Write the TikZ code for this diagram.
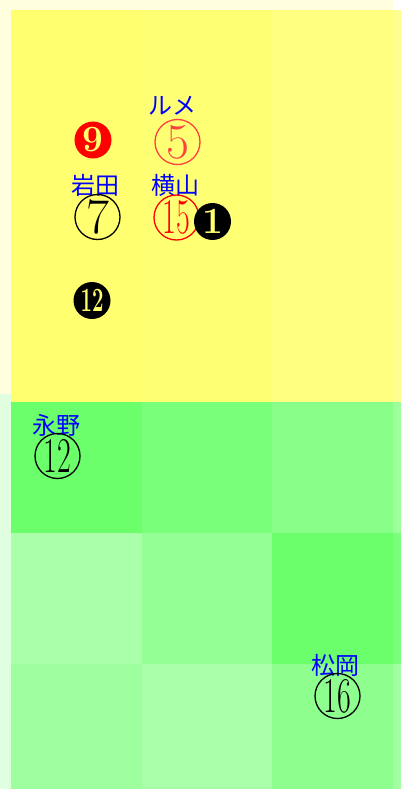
\documentclass[tikz,border=0pt]{standalone}
\usepackage{fontspec}
\usepackage{graphicx}
\newfontfamily\jpfont{Noto Sans CJK JP}
\definecolor{bgY}{HTML}{FFFFE0}
\definecolor{bgG}{HTML}{E0FFE0}
\definecolor{cellY}{HTML}{FFFF70}
\definecolor{lightred}{HTML}{FF4040}
\definecolor{y1}{HTML}{FFFF70}
\definecolor{y2}{HTML}{FFFF74}
\definecolor{y3}{HTML}{FFFF80}
\definecolor{y3s}{HTML}{FFFF91}
\definecolor{g41}{HTML}{6BFF6B}
\definecolor{g42}{HTML}{7AFF7A}
\definecolor{g43}{HTML}{88FF88}
\definecolor{g51}{HTML}{AAFFAA}
\definecolor{g52}{HTML}{94FF94}
\definecolor{g53}{HTML}{6BFF6B}
\definecolor{g61}{HTML}{9EFF9E}
\definecolor{g62}{HTML}{AAFFAA}
\definecolor{g63}{HTML}{8EFF8E}
\definecolor{g43s}{HTML}{9CFF9C}
\definecolor{g53s}{HTML}{7AFF7A}
\definecolor{g63s}{HTML}{A1FFA1}
\tikzset{
  lbl/.style={text=blue, font=\jpfont\fontsize{24}{24}\selectfont, inner sep=0pt},
  circnum/.style={circle, draw, line width=1.3pt, minimum size=45pt, inner sep=0pt, font=\fontsize{50}{50}\selectfont},
  negnum/.style={circle, fill, minimum size=37pt, inner sep=0pt, text=cellY, font=\bfseries\fontsize{37}{37}\selectfont}
}
\begin{document}
\begin{tikzpicture}[x=1pt,y=-1pt]
\useasboundingbox (0,0) rectangle (401,789);
\clip (0,0) rectangle (401,789);
% backgrounds
\fill[bgY] (0,0) rectangle (393,394);
\fill[bgG] (0,394) rectangle (393,789);
% yellow cells
\fill[y1] (11,10) rectangle (141.5,402);
\fill[y2] (141.5,10) rectangle (272,402);
\fill[y3] (272,10) rectangle (393,402);
\fill[y3s] (393,10) rectangle (401,402);
% green cells
\fill[g41] (11,402) rectangle (141.5,532.7);
\fill[g42] (141.5,402) rectangle (272,532.7);
\fill[g43] (272,402) rectangle (393,532.7);
\fill[g43s] (393,402) rectangle (401,532.7);
\fill[g51] (11,532.7) rectangle (141.5,663.5);
\fill[g52] (141.5,532.7) rectangle (272,663.5);
\fill[g53] (272,532.7) rectangle (393,663.5);
\fill[g53s] (393,532.7) rectangle (401,663.5);
\fill[g61] (11,663.5) rectangle (141.5,794);
\fill[g62] (141.5,663.5) rectangle (272,794);
\fill[g63] (272,663.5) rectangle (393,794);
\fill[g63s] (393,663.5) rectangle (401,794);
% labels
\node[lbl] (lume) at (172,106) {ルメ};
\node[lbl] (iwata) at (95,185) {岩田};
\node[lbl] (yokoyama) at (175,185) {横山};
\node[lbl] (nagano) at (56,425) {永野};
\node[lbl] (matsuoka) at (335,665) {松岡};
% circled numbers
\node[circnum, draw=lightred, text=lightred] (n5) at (177.5,142) {5};
\node[circnum] (n7) at (97.5,217) {7};
\node[circnum, draw=red, text=red] (n15) at (176.5,217.5) {\scalebox{0.6}[1]{15}};
\node[circnum] (n12) at (57.5,456) {\scalebox{0.6}[1]{12}};
\node[circnum] (n16) at (337.5,696) {\scalebox{0.6}[1]{16}};
% negative circled numbers
\node[negnum, fill=red] (m9) at (93,140) {9};
\node[negnum, fill=black] (m1) at (212.5,221.5) {1};
\node[negnum, fill=black, font=\bfseries\fontsize{34}{34}\selectfont] (m12) at (92,300.5) {\scalebox{0.6}[1]{12}};
\end{tikzpicture}
\end{document}
